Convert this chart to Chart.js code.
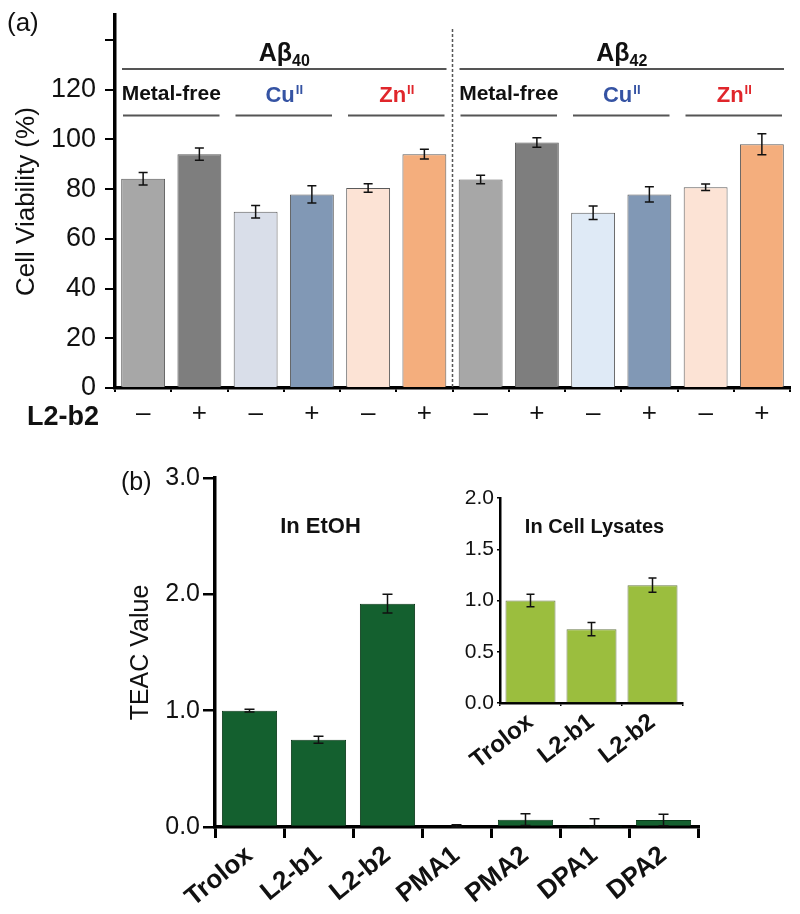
<!DOCTYPE html>
<html><head><meta charset="utf-8">
<script src="https://cdn.jsdelivr.net/npm/chart.js@4.4.1/dist/chart.umd.min.js"></script>
<style>
html,body{margin:0;padding:0;background:#fff}
body{width:800px;height:914px;position:relative;overflow:hidden}
canvas{position:absolute}
#ca{left:0;top:-10px}
#cb{left:0;top:440px}
#cc{left:420px;top:470px}
</style></head><body>
<canvas id="ca" width="800" height="450"></canvas>
<canvas id="cb" width="800" height="474"></canvas>
<canvas id="cc" width="290" height="300"></canvas>
<script>
// ---------- data ----------
const peptideGroups = ['Aβ|40', 'Aβ|42'];
const metalGroups = ['Metal-free', 'Cu', 'Zn'];
const treatmentLabels = ['–','+','–','+','–','+','–','+','–','+','–','+'];
const viabilityValues = [84.2, 94.1, 70.9, 77.9, 80.5, 94.1, 83.9, 98.8, 70.5, 77.9, 80.8, 98.1];
const viabilityErrors = [2.5, 2.5, 2.5, 3.5, 1.7, 2.0, 1.7, 1.9, 2.7, 3.1, 1.3, 4.2];
const viabilityTicks = [0, 20, 40, 60, 80, 100, 120];

const teacLabels = ['Trolox','L2-b1','L2-b2','PMA1','PMA2','DPA1','DPA2'];
const teacValues = [1.0, 0.75, 1.92, 0.01, 0.063, 0.005, 0.06];
const teacErrors = [0.012, 0.03, 0.08, 0.01, 0.05, 0.065, 0.05];

const lysateLabels = ['Trolox','L2-b1','L2-b2'];
const lysateValues = [1.0, 0.72, 1.15];
const lysateErrors = [0.06, 0.065, 0.07];

// ---------- styles ----------
const FONT = "'Liberation Sans', Arial, Helvetica, sans-serif";
const colorsA = ['#a7a7a7','#7e7e7e','#d9dee9','#8198b5','#fce3d5','#f4ae7d',
                 '#a7a7a7','#7e7e7e','#dfeaf6','#8198b5','#fce3d5','#f4ae7d'];
const metalColors = ['#111111','#3553a3','#e0262b'];
Chart.defaults.font.family = FONT;
Chart.defaults.color = '#111';

const errorBars = {
  id: 'errorBars',
  afterDatasetsDraw(chart, args, opts) {
    const ctx = chart.ctx, ys = chart.scales.y;
    chart.data.datasets.forEach((ds, di) => {
      chart.getDatasetMeta(di).data.forEach((bar, i) => {
        const v = ds.data[i], e = ds.errors[i];
        const x = bar.x;
        const yt = ys.getPixelForValue(v + e), yb = ys.getPixelForValue(Math.max(0, v - e));
        const c = opts.cap;
        ctx.save();
        ctx.strokeStyle = '#111'; ctx.lineWidth = opts.width;
        ctx.beginPath();
        ctx.moveTo(x, yb); ctx.lineTo(x, yt);
        ctx.moveTo(x - c, yt); ctx.lineTo(x + c, yt);
        ctx.moveTo(x - c, yb); ctx.lineTo(x + c, yb);
        ctx.stroke();
        ctx.restore();
      });
    });
  }
};

function drawScript(ctx, base, extra, cx, cy, size, exSize, color, sup) {
  ctx.save();
  ctx.font = `bold ${size}px ${FONT}`; const w1 = ctx.measureText(base).width;
  ctx.font = `bold ${exSize}px ${FONT}`; const w2 = ctx.measureText(extra).width;
  const x0 = cx - (w1 + w2) / 2;
  const by = cy + size * 0.36;
  ctx.fillStyle = color; ctx.textAlign = 'left'; ctx.textBaseline = 'alphabetic';
  ctx.font = `bold ${size}px ${FONT}`; ctx.fillText(base, x0, by);
  ctx.font = `bold ${exSize}px ${FONT}`;
  ctx.fillText(extra, x0 + w1 + (sup ? 1 : 0), sup ? by - size * 0.36 : by + size * 0.2);
  ctx.restore();
}

const annotA = {
  id: 'annotA',
  afterDraw(chart) {
    const ctx = chart.ctx, xs = chart.scales.x, ys = chart.scales.y;
    const half = (xs.getPixelForValue(1) - xs.getPixelForValue(0)) / 2;
    ctx.save();
    const sx = xs.getPixelForValue(5) + half;
    ctx.strokeStyle = '#555'; ctx.lineWidth = 1.5; ctx.setLineDash([3, 2]);
    ctx.beginPath(); ctx.moveTo(sx, ys.getPixelForValue(144.4)); ctx.lineTo(sx, ys.getPixelForValue(0)); ctx.stroke();
    ctx.setLineDash([]);
    ctx.strokeStyle = '#555'; ctx.lineWidth = 2;
    peptideGroups.forEach((pg, g) => {
      const l = xs.getPixelForValue(g * 6) - half + 7, r = xs.getPixelForValue(g * 6 + 5) + half - 6;
      const yl = ys.getPixelForValue(128.4);
      ctx.beginPath(); ctx.moveTo(l, yl); ctx.lineTo(r, yl); ctx.stroke();
      const [b, s] = pg.split('|');
      drawScript(ctx, b, s, (l + r) / 2, ys.getPixelForValue(135.2), 25, 16, '#111', false);
      metalGroups.forEach((m, k) => {
        const i0 = g * 6 + k * 2;
        const ml = xs.getPixelForValue(i0) - half + 8, mr = xs.getPixelForValue(i0 + 1) + half - 8;
        const ym = ys.getPixelForValue(109.6);
        ctx.beginPath(); ctx.moveTo(ml, ym); ctx.lineTo(mr, ym); ctx.stroke();
        const cy = ys.getPixelForValue(118.4);
        if (k === 0) {
          ctx.font = `bold 21px ${FONT}`; ctx.fillStyle = metalColors[k];
          ctx.textAlign = 'center'; ctx.textBaseline = 'middle';
          ctx.fillText(m, (ml + mr) / 2, cy);
        } else {
          drawScript(ctx, m, 'II', (ml + mr) / 2, cy, 22, 13, metalColors[k], true);
        }
      });
    });
    ctx.fillStyle = '#111'; ctx.textAlign = 'left'; ctx.textBaseline = 'middle';
    ctx.font = `26px ${FONT}`;
    ctx.fillText('(a)', 7, ys.getPixelForValue(146.4));
    ctx.font = `bold 27px ${FONT}`;
    ctx.fillText('L2-b2', 27, ys.getPixelForValue(-12));
    ctx.restore();
  }
};

const annotB = {
  id: 'annotB',
  afterDraw(chart) {
    const ctx = chart.ctx, xs = chart.scales.x, ys = chart.scales.y;
    ctx.save();
    ctx.fillStyle = '#111'; ctx.textBaseline = 'middle';
    ctx.font = `bold 22px ${FONT}`; ctx.textAlign = 'center';
    ctx.fillText('In EtOH', xs.getPixelForValue(1) + 2, ys.getPixelForValue(2.58));
    ctx.font = `25px ${FONT}`; ctx.textAlign = 'left';
    ctx.fillText('(b)', 121, ys.getPixelForValue(2.96));
    ctx.restore();
  }
};

const annotC = {
  id: 'annotC',
  afterDraw(chart) {
    const ctx = chart.ctx, xs = chart.scales.x, ys = chart.scales.y;
    ctx.save();
    ctx.fillStyle = '#111'; ctx.textBaseline = 'middle'; ctx.textAlign = 'center';
    ctx.font = `bold 20px ${FONT}`;
    ctx.fillText('In Cell Lysates', xs.getPixelForValue(1) + 3, ys.getPixelForValue(1.71));
    ctx.restore();
  }
};

const common = { responsive: false, animation: false, events: [], maintainAspectRatio: false };

// ---------- panel (a) ----------
new Chart(document.getElementById('ca'), {
  type: 'bar',
  data: { labels: treatmentLabels, datasets: [{
    data: viabilityValues, errors: viabilityErrors, backgroundColor: colorsA,
    borderColor: '#5b5b5b', borderWidth: 1, barPercentage: 0.78, categoryPercentage: 1 }] },
  options: { ...common,
    layout: { padding: { top: 10, right: 10, left: 0, bottom: 0 } },
    plugins: { legend: { display: false }, tooltip: { enabled: false }, errorBars: { cap: 4.5, width: 1.5 } },
    scales: {
      x: { grid: { drawOnChartArea: false, tickLength: 4, color: '#000', lineWidth: 2, offset: true },
           border: { display: true, color: '#000', width: 3.5 },
           ticks: { font: { size: 26 }, color: '#111', padding: 6, maxRotation: 0, autoSkip: false },
           afterFit(s) { s.height = 52; } },
      y: { min: 0, max: 150,
           ticks: { stepSize: 20, includeBounds: false, font: { size: 27 }, color: '#111', padding: 9,
                    callback: v => viabilityTicks.includes(v) ? String(v) : '' },
           grid: { drawOnChartArea: false, tickLength: 10, color: '#000', lineWidth: 2 },
           border: { display: true, color: '#000', width: 3.5 },
           title: { display: true, text: 'Cell Viability (%)', font: { size: 26 }, color: '#111', padding: { top: 11, bottom: 0 } },
           afterFit(s) { s.width = 115; } }
    }
  },
  plugins: [errorBars, annotA]
});

// ---------- panel (b) ----------
new Chart(document.getElementById('cb'), {
  type: 'bar',
  data: { labels: teacLabels, datasets: [{
    data: teacValues, errors: teacErrors, backgroundColor: '#14602f',
    borderColor: '#0b3a1b', borderWidth: 1, barPercentage: 0.8, categoryPercentage: 1 }] },
  options: { ...common,
    layout: { padding: { top: 38, right: 102, left: 0, bottom: 0 } },
    plugins: { legend: { display: false }, tooltip: { enabled: false }, errorBars: { cap: 5, width: 1.5 } },
    scales: {
      x: { grid: { drawOnChartArea: false, tickLength: 11, color: '#000', lineWidth: 3, offset: true },
           border: { display: true, color: '#000', width: 3.5 },
           ticks: { font: { size: 26, weight: 'bold' }, color: '#111', padding: 2, minRotation: 39, maxRotation: 39, autoSkip: false },
           afterFit(s) { s.height = 87; } },
      y: { min: 0, max: 3,
           ticks: { stepSize: 1, font: { size: 25 }, color: '#111', padding: 3, callback: v => v.toFixed(1) },
           grid: { drawOnChartArea: false, tickLength: 12, color: '#000', lineWidth: 2.5 },
           border: { display: true, color: '#000', width: 3.5 },
           title: { display: true, text: 'TEAC Value', font: { size: 25 }, color: '#111', padding: { top: 126, bottom: 0 } },
           afterFit(s) { s.width = 215; } }
    }
  },
  plugins: [errorBars, annotB]
});

// ---------- inset ----------
new Chart(document.getElementById('cc'), {
  type: 'bar',
  data: { labels: lysateLabels, datasets: [{
    data: lysateValues, errors: lysateErrors, backgroundColor: '#9bbe3e',
    borderColor: '#6b7a4a', borderWidth: 1, barPercentage: 0.82, categoryPercentage: 1 }] },
  options: { ...common,
    layout: { padding: { top: 28, right: 27, left: 0, bottom: 0 } },
    plugins: { legend: { display: false }, tooltip: { enabled: false }, errorBars: { cap: 4, width: 1.5 } },
    scales: {
      x: { grid: { drawOnChartArea: false, tickLength: 3, color: '#000', lineWidth: 1.5, offset: true },
           border: { display: true, color: '#000', width: 2.5 },
           ticks: { font: { size: 24, weight: 'bold' }, color: '#111', padding: 2, minRotation: 38, maxRotation: 38, autoSkip: false },
           afterFit(s) { s.height = 67; } },
      y: { min: 0, max: 2,
           ticks: { stepSize: 0.5, font: { size: 21 }, color: '#111', padding: 3, callback: v => v.toFixed(1) },
           grid: { drawOnChartArea: false, tickLength: 3, color: '#000', lineWidth: 1.5 },
           border: { display: true, color: '#000', width: 2.5 },
           afterFit(s) { s.width = 80; } }
    }
  },
  plugins: [errorBars, annotC]
});
</script>
</body></html>
